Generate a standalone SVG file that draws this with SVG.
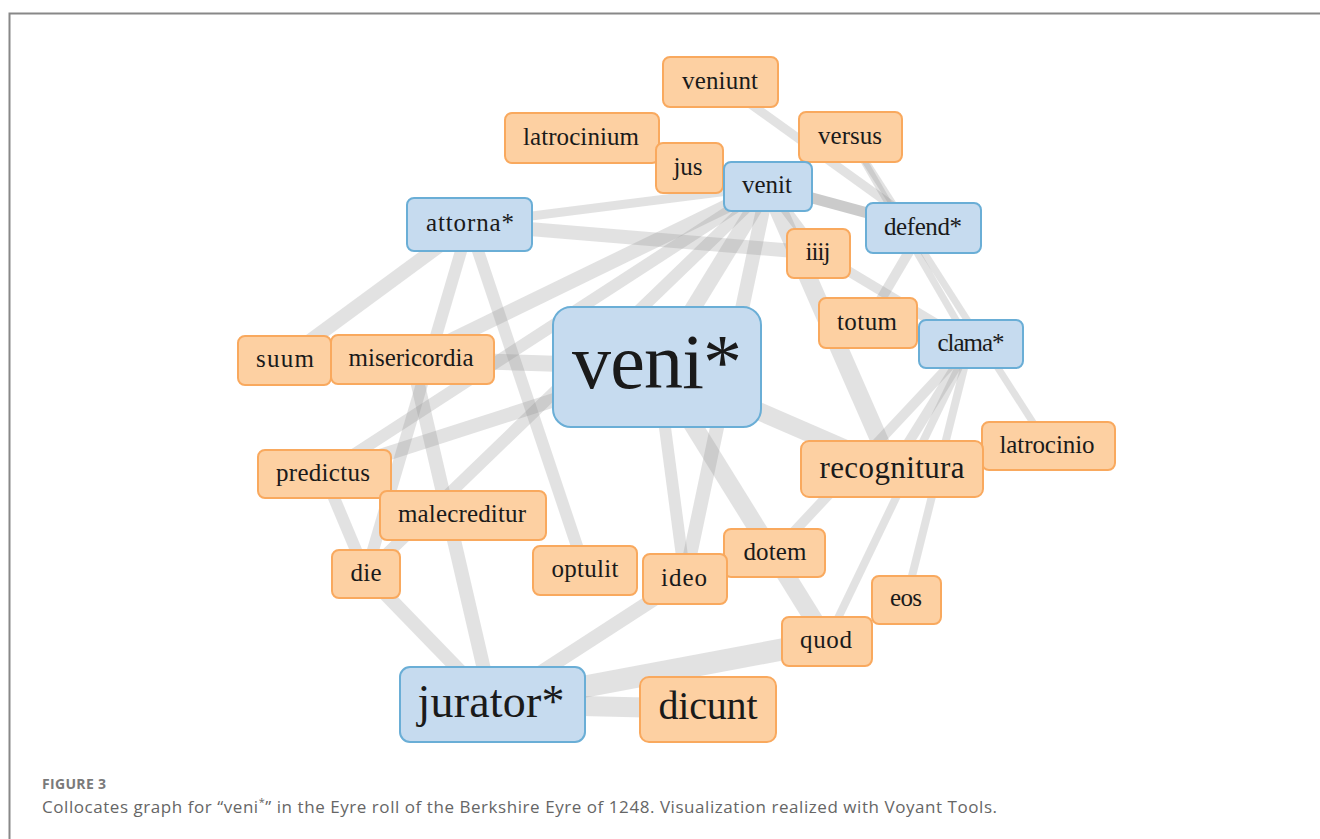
<svg xmlns="http://www.w3.org/2000/svg" width="1320" height="839" viewBox="0 0 1320 839">
<style>
.e{stroke:#8c8c8c;stroke-opacity:0.25;fill:none;stroke-linecap:butt}
.ed{stroke:#8c8c8c;stroke-opacity:0.45;fill:none}
.o rect{fill:#fdd0a2;stroke:#f9a95e;stroke-width:2}
.b rect{fill:#c6dbef;stroke:#6aaed6;stroke-width:2}
.n text{font-family:"Liberation Serif","Times New Roman",serif;fill:#1a1a1a;text-anchor:middle;font-size:25px}
.cap{font-family:"Open Sans","Lato","Liberation Sans",sans-serif;fill:#666}
</style>
<rect width="1320" height="839" fill="#fff"/>
<path d="M9.5 839 V13.5 H1320" fill="none" stroke="#888" stroke-width="2"/>
<g id="edges">
<line class="e" x1="720" y1="82" x2="923" y2="228" stroke-width="9"/>
<line class="e" x1="850" y1="137" x2="970" y2="344" stroke-width="7"/>
<line class="e" x1="850" y1="137" x2="1048" y2="446" stroke-width="7"/>
<line class="ed" x1="768" y1="186" x2="923" y2="228" stroke-width="11"/>
<line class="e" x1="768" y1="186" x2="818" y2="253" stroke-width="10"/>
<line class="e" x1="469" y1="224" x2="818" y2="253" stroke-width="14"/>
<line class="e" x1="469" y1="224" x2="768" y2="186" stroke-width="9"/>
<line class="e" x1="469" y1="224" x2="284" y2="360" stroke-width="14"/>
<line class="e" x1="469" y1="224" x2="366" y2="574" stroke-width="12"/>
<line class="e" x1="469" y1="224" x2="585" y2="570" stroke-width="12"/>
<line class="e" x1="768" y1="186" x2="412" y2="359" stroke-width="14"/>
<line class="e" x1="768" y1="186" x2="324" y2="474" stroke-width="12"/>
<line class="e" x1="768" y1="186" x2="657" y2="367" stroke-width="16"/>
<line class="e" x1="768" y1="186" x2="685" y2="579" stroke-width="14"/>
<line class="e" x1="768" y1="186" x2="892" y2="469" stroke-width="18"/>
<line class="e" x1="768" y1="186" x2="366" y2="574" stroke-width="12"/>
<line class="e" x1="657" y1="367" x2="412" y2="359" stroke-width="16"/>
<line class="e" x1="657" y1="367" x2="324" y2="474" stroke-width="14"/>
<line class="e" x1="657" y1="367" x2="892" y2="469" stroke-width="18"/>
<line class="e" x1="657" y1="367" x2="827" y2="641" stroke-width="18"/>
<line class="e" x1="657" y1="367" x2="685" y2="579" stroke-width="12"/>
<line class="e" x1="970" y1="344" x2="892" y2="469" stroke-width="10"/>
<line class="e" x1="970" y1="344" x2="774" y2="553" stroke-width="10"/>
<line class="e" x1="970" y1="344" x2="827" y2="641" stroke-width="8"/>
<line class="e" x1="970" y1="344" x2="906" y2="600" stroke-width="8"/>
<line class="e" x1="923" y1="228" x2="867" y2="323" stroke-width="10"/>
<line class="e" x1="818" y1="253" x2="970" y2="344" stroke-width="10"/>
<line class="e" x1="827" y1="641" x2="492" y2="704" stroke-width="22"/>
<line class="e" x1="492" y1="704" x2="708" y2="709" stroke-width="20"/>
<line class="e" x1="492" y1="704" x2="685" y2="579" stroke-width="14"/>
<line class="e" x1="492" y1="704" x2="412" y2="359" stroke-width="14"/>
<line class="e" x1="492" y1="704" x2="366" y2="574" stroke-width="14"/>
<line class="e" x1="324" y1="474" x2="366" y2="574" stroke-width="12"/>
</g>
<g id="n-veniunt" class="n o"><rect x="663" y="57" width="115" height="50" rx="7"/><text x="720" y="89" textLength="76">veniunt</text></g>
<g id="n-latrocinium" class="n o"><rect x="505" y="113" width="154" height="50" rx="7"/><text x="581" y="145" textLength="116">latrocinium</text></g>
<g id="n-versus" class="n o"><rect x="799" y="112" width="103" height="50" rx="7"/><text x="850" y="144" textLength="64">versus</text></g>
<g id="n-jus" class="n o"><rect x="656" y="143" width="67" height="50" rx="7"/><text x="688" y="175" textLength="29">jus</text></g>
<g id="n-venit" class="n b"><rect x="724" y="162" width="88" height="49" rx="7"/><text x="767" y="193" textLength="50">venit</text></g>
<g id="n-attorna" class="n b"><rect x="407" y="198" width="125" height="53" rx="7"/><text x="470" y="231" textLength="88">attorna*</text></g>
<g id="n-defend" class="n b"><rect x="866" y="203" width="115" height="50" rx="7"/><text x="923" y="235" textLength="78">defend*</text></g>
<g id="n-iiij" class="n o"><rect x="787" y="229" width="63" height="49" rx="7"/><text x="818" y="260" textLength="25">iiij</text></g>
<g id="n-totum" class="n o"><rect x="819" y="298" width="98" height="50" rx="7"/><text x="867" y="330" textLength="60">totum</text></g>
<g id="n-clama" class="n b"><rect x="919" y="320" width="104" height="48" rx="7"/><text x="971" y="351" textLength="67">clama*</text></g>
<g id="n-veni" class="n b"><rect x="553" y="307" width="208" height="120" rx="18"/><text x="657" y="388" style="font-size:78px" textLength="170">veni*</text></g>
<g id="n-suum" class="n o"><rect x="238" y="336" width="93" height="49" rx="7"/><text x="285" y="367" textLength="58">suum</text></g>
<g id="n-misericordia" class="n o"><rect x="331" y="335" width="163" height="49" rx="7"/><text x="411" y="366" textLength="125">misericordia</text></g>
<g id="n-latrocinio" class="n o"><rect x="982" y="422" width="133" height="48" rx="7"/><text x="1047" y="453" textLength="95">latrocinio</text></g>
<g id="n-recognitura" class="n o"><rect x="801" y="441" width="182" height="56" rx="8"/><text x="892" y="478" style="font-size:31px" textLength="145">recognitura</text></g>
<g id="n-predictus" class="n o"><rect x="258" y="450" width="133" height="48" rx="7"/><text x="323" y="481" textLength="94">predictus</text></g>
<g id="n-malecreditur" class="n o"><rect x="380" y="491" width="166" height="49" rx="7"/><text x="462" y="522" textLength="128">malecreditur</text></g>
<g id="n-die" class="n o"><rect x="332" y="550" width="68" height="48" rx="7"/><text x="366" y="581" textLength="31">die</text></g>
<g id="n-optulit" class="n o"><rect x="533" y="546" width="104" height="49" rx="7"/><text x="585" y="577" textLength="67">optulit</text></g>
<g id="n-dotem" class="n o"><rect x="724" y="529" width="101" height="48" rx="7"/><text x="775" y="560" textLength="63">dotem</text></g>
<g id="n-ideo" class="n o"><rect x="643" y="554" width="84" height="50" rx="7"/><text x="684" y="586" textLength="46">ideo</text></g>
<g id="n-eos" class="n o"><rect x="872" y="576" width="69" height="48" rx="7"/><text x="906" y="606" textLength="32">eos</text></g>
<g id="n-quod" class="n o"><rect x="782" y="617" width="90" height="49" rx="7"/><text x="826" y="648" textLength="52">quod</text></g>
<g id="n-jurator" class="n b"><rect x="400" y="667" width="185" height="75" rx="10"/><text x="491" y="717" style="font-size:46px" textLength="147">jurator*</text></g>
<g id="n-dicunt" class="n o"><rect x="640" y="677" width="136" height="65" rx="9"/><text x="708" y="719" style="font-size:40px" textLength="99">dicunt</text></g>
<text class="cap" x="42" y="789" style="font-size:14px;font-weight:700;fill:#7a7a7a" textLength="64">FIGURE 3</text>
<text class="cap" x="42" y="813" style="font-size:17px" textLength="955">Collocates graph for “veni<tspan dy="-7" style="font-size:11px">*</tspan><tspan dy="7">” in the Eyre roll of the Berkshire Eyre of 1248. Visualization realized with Voyant Tools.</tspan></text>
</svg>
